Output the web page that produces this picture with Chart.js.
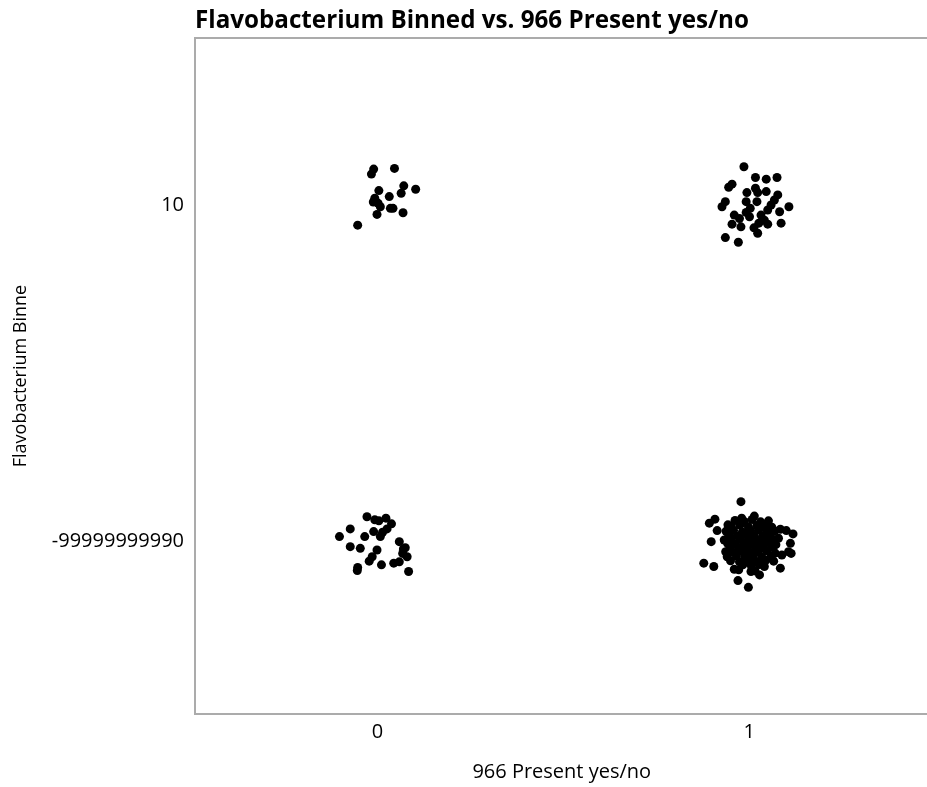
<!DOCTYPE html>
<html>
<head>
<meta charset="utf-8">
<script src="https://cdn.jsdelivr.net/npm/chart.js@4.4.1/dist/chart.umd.min.js"></script>
<style>
  html, body { margin: 0; padding: 0; background: #fff; overflow: hidden; }
  #wrap { width: 927px; height: 787px; overflow: hidden; }
</style>
</head>
<body>
<div id="wrap"><canvas id="myChart" width="933" height="787"></canvas></div>
<script>
// category labels on both axes
var xCategories = ["0", "1"];
var yCategories = ["-99999999990", "10"];

// jittered points, in category units (x: 0/1, y: 0 = -99999999990, 1 = 10)
var topLeftX = [-0.010, -0.016, 0.046, 0.071, 0.103, 0.064, 0.004, -0.007, 0.032, 0.002, 0.008, 0.035, 0.042, 0.069, -0.001, -0.053, -0.011];
var topLeftY = [1.107, 1.092, 1.109, 1.057, 1.047, 1.035, 1.043, 1.020, 1.025, 1.005, 0.995, 0.990, 0.990, 0.977, 0.972, 0.940, 1.009];

var topRightX = [0.986, 1.017, 1.046, 1.075, 0.954, 0.945, 1.017, 0.994, 1.023, 1.046, 1.077, 1.068, 0.936, 0.927, 0.992, 1.021, 1.059, 1.050,
    1.003, 0.992, 1.107, 1.082, 0.960, 0.974, 1.001, 1.032, 1.041, 1.086, 0.954, 0.978, 1.026, 1.050, 1.023, 0.936, 0.971, 1.013];
var topRightY = [1.114, 1.082, 1.077, 1.082, 1.062, 1.053, 1.050, 1.037, 1.037, 1.040, 1.030, 1.015, 1.010, 0.995, 1.010, 1.010, 1.000, 0.985,
    0.990, 0.978, 0.995, 0.980, 0.970, 0.960, 0.965, 0.970, 0.955, 0.946, 0.943, 0.935, 0.946, 0.943, 0.916, 0.903, 0.889, 0.932];

var bottomLeftX = [-0.028, -0.007, 0.004, 0.023, 0.038, 0.026, -0.073, -0.102, -0.034, -0.010, 0.008, 0.014, -0.073, -0.046,
    -0.001, 0.059, 0.075, 0.068, 0.080, -0.014, -0.022, 0.011, 0.044, 0.059, -0.053, 0.084, -0.054, 0.070];
var bottomLeftY = [0.072, 0.063, 0.060, 0.068, 0.051, 0.036, 0.036, 0.013, 0.013, 0.028, 0.013, 0.026, -0.017, -0.022,
    -0.027, -0.002, -0.020, -0.037, -0.047, -0.047, -0.060, -0.071, -0.066, -0.062, -0.079, -0.091, -0.088, -0.024];

var bottomRightX = [0.978, 0.908, 0.893, 0.914, 0.898, 1.084, 1.100, 1.118, 1.111, 1.106, 1.088, 1.113, 0.878, 0.905, 1.084, 1.028, 0.970, 0.998,
    0.980, 1.014, 1.046, 0.943, 0.933, 0.941, 0.960, 1.059, 1.041, 1.005, 1.068,
    0.962, 0.987, 1.008, 1.031, 1.052,
    0.951, 0.975, 0.998, 1.021, 1.040, 1.061,
    0.938, 0.958, 0.982, 1.004, 1.026, 1.048, 1.069,
    0.945, 0.968, 0.991, 1.013, 1.036, 1.057,
    0.952, 0.977, 0.999, 1.022, 1.044, 1.079,
    0.942, 0.963, 0.986, 1.009, 1.031, 1.053, 1.072,
    0.949, 0.972, 0.995, 1.017, 1.039, 1.062,
    0.937, 0.958, 0.981, 1.003, 1.025, 1.048, 1.070,
    0.966, 0.989, 1.011, 1.034,
    0.950, 0.974, 0.997, 1.019, 1.045, 1.066,
    0.983, 1.006, 1.027,
    0.972, 1.016];
var bottomRightY = [0.117, 0.065, 0.053, 0.031, -0.002, 0.035, 0.031, 0.021, -0.007, -0.032, -0.042, -0.037, -0.066, -0.076, -0.081, -0.101, -0.118, -0.138,
    0.068, 0.074, 0.048, 0.048, 0.003, -0.047, -0.084, -0.047, -0.076, -0.091, 0.003,
    0.061, 0.058, 0.064, 0.057, 0.060,
    0.044, 0.047, 0.042, 0.046, 0.043, 0.041,
    0.029, 0.032, 0.027, 0.031, 0.033, 0.028, 0.030,
    0.018, 0.015, 0.019, 0.016, 0.014, 0.017,
    0.006, 0.004, 0.007, 0.003, 0.005, 0.008,
    -0.007, -0.009, -0.006, -0.010, -0.008, -0.005, -0.011,
    -0.019, -0.022, -0.018, -0.021, -0.020, -0.017,
    -0.032, -0.034, -0.031, -0.035, -0.033, -0.030, -0.036,
    -0.045, -0.047, -0.044, -0.048,
    -0.059, -0.062, -0.058, -0.061, -0.057, -0.060,
    -0.071, -0.074, -0.070,
    -0.086, -0.089];

function toPoints(xs, ys) {
    var pts = [];
    for (var i = 0; i < xs.length; i++) {
        pts.push({ x: xs[i], y: ys[i] });
    }
    return pts;
}

function dotSet(xs, ys) {
    return {
        data: toPoints(xs, ys),
        backgroundColor: "#000",
        borderWidth: 0,
        pointRadius: 4.5,
        pointHoverRadius: 4.5
    };
}

var axisGray = "#ababab";

new Chart("myChart", {
    type: "scatter",
    data: {
        datasets: [
            dotSet(topLeftX, topLeftY),
            dotSet(topRightX, topRightY),
            dotSet(bottomLeftX, bottomLeftY),
            dotSet(bottomRightX, bottomRightY)
        ]
    },
    options: {
        responsive: false,
        animation: false,
        layout: { padding: 0 },
        plugins: {
            legend: { display: false },
            tooltip: { enabled: false },
            title: {
                display: true,
                text: "Flavobacterium Binned vs. 966 Present yes/no",
                align: "start",
                fullSize: false,
                color: "#000",
                font: { family: "Open Sans", size: 24.2, weight: "bold", lineHeight: 1.2 },
                padding: { top: 6.5, bottom: 2.5 }
            }
        },
        scales: {
            x: {
                type: "linear",
                min: -0.4906,
                max: 1.4825,
                afterBuildTicks: function(scale) {
                    scale.ticks = [{ value: 0 }, { value: 1 }];
                },
                afterFit: function(scale) { scale.height = 73; },
                grid: { display: false, drawTicks: false },
                border: { display: true, color: axisGray, width: 2 },
                ticks: {
                    color: "#000",
                    padding: 6,
                    maxRotation: 0,
                    font: { family: "Open Sans", size: 20 },
                    callback: function(v) { return xCategories[v]; }
                },
                title: {
                    display: true,
                    text: "966 Present yes/no",
                    color: "#000",
                    font: { family: "Open Sans", size: 20 },
                    padding: { top: 3, bottom: 3 }
                }
            },
            xTop: {
                type: "linear",
                position: "top",
                min: -0.4906,
                max: 1.4825,
                afterFit: function(scale) { scale.height = 0; },
                grid: { display: false, drawTicks: false },
                border: { display: true, color: axisGray, width: 2 },
                ticks: { display: false }
            },
            y: {
                type: "linear",
                min: -0.515,
                max: 1.497,
                afterBuildTicks: function(scale) {
                    scale.ticks = [{ value: 0 }, { value: 1 }];
                },
                afterFit: function(scale) { scale.width = 195; },
                grid: { display: false, drawTicks: false },
                border: { display: true, color: axisGray, width: 2 },
                ticks: {
                    color: "#000",
                    padding: 11,
                    font: { family: "Open Sans", size: 20 },
                    callback: function(v) { return yCategories[v]; }
                },
                title: {
                    display: true,
                    text: "Flavobacterium Binne",
                    color: "#000",
                    font: { family: "Open Sans", size: 18 },
                    padding: { top: 10, bottom: 4 }
                }
            }
        }
    }
});
</script>
</body>
</html>
